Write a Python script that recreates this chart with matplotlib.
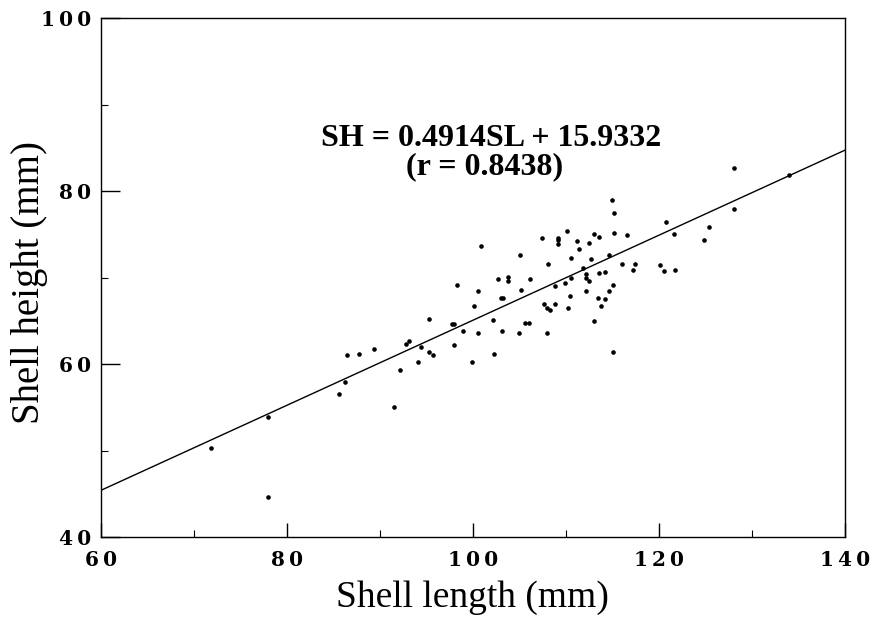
import matplotlib
matplotlib.use("Agg")
import matplotlib.pyplot as plt
import numpy as np
from matplotlib.ticker import MultipleLocator

shell_length = [71.8, 78.0, 78.0, 85.6, 86.2, 86.5, 87.7, 89.4, 91.5, 92.1,
                92.8, 93.1, 94.1, 94.4, 95.3, 95.3, 95.7, 97.7, 98.0, 98.0,
                98.3, 98.9, 99.9, 100.1, 100.5, 100.5, 100.9, 102.1, 102.3, 102.7,
                103.0, 103.2, 103.1, 103.8, 103.8, 105.1, 105.2, 105.0, 105.6, 106.0,
                106.1, 107.4, 107.6, 108.1, 108.0, 108.3, 108.0, 108.8, 108.8, 109.1,
                109.1, 109.1, 109.9, 110.1, 110.2, 110.4, 110.5, 110.5, 111.2, 111.4,
                111.8, 112.1, 112.2, 112.5, 112.1, 112.5, 112.7, 113.0, 113.6, 113.0,
                113.4, 113.6, 113.8, 114.2, 114.2, 114.6, 114.6, 115.0, 115.2, 115.2,
                115.1, 115.1, 116.0, 116.6, 117.2, 117.4, 120.1, 120.5, 120.7, 121.7,
                121.6, 124.8, 125.4, 128.1, 128.1, 134.0]
shell_height = [50.3, 53.9, 44.6, 56.6, 57.9, 61.1, 61.2, 61.7, 55.1, 59.3,
                62.3, 62.7, 60.2, 62.0, 65.2, 61.4, 61.0, 64.6, 64.6, 62.2,
                69.2, 63.8, 60.3, 66.7, 63.6, 68.4, 73.6, 65.1, 61.2, 69.8,
                67.6, 67.6, 63.8, 70.1, 69.6, 72.6, 68.6, 63.6, 64.8, 64.7,
                69.8, 74.6, 66.9, 71.6, 66.5, 66.3, 63.6, 66.9, 69.0, 74.6,
                74.3, 73.9, 69.4, 75.4, 66.5, 67.9, 70.0, 72.3, 74.2, 73.3,
                71.1, 70.4, 69.9, 69.6, 68.5, 74.0, 72.1, 75.0, 74.7, 65.0,
                67.6, 70.5, 66.7, 67.5, 70.7, 72.6, 68.5, 79.0, 77.5, 75.2,
                69.2, 61.4, 71.6, 74.9, 70.9, 71.6, 71.4, 70.8, 76.4, 70.9,
                75.0, 74.3, 75.8, 82.7, 77.9, 81.9]

slope = 0.4914
intercept = 15.9332
equation_text = "SH = 0.4914SL + 15.9332"
r_text = "(r = 0.8438)"
x_ticks = [60, 80, 100, 120, 140]
y_ticks = [40, 60, 80, 100]
x_label = "Shell length (mm)"
y_label = "Shell height (mm)"

SP = "\u2009"  # slight letter spacing to mimic the wide tick digits


def spaced(v):
    return SP.join(str(v))


tick_font = dict(fontfamily='DejaVu Serif', fontweight='bold', fontsize=14.5)

fig = plt.figure(figsize=(8.76, 6.21), dpi=100)
ax = fig.add_axes([0.1153, 0.135, 0.8493, 0.836])

ax.plot(shell_length, shell_height, 'o', color='black', markersize=3.3,
        markeredgewidth=0, clip_on=False)
lx = np.array([60, 140])
ax.plot(lx, slope * lx + intercept, color='black', linewidth=1.0)

ax.set_xlim(60, 140)
ax.set_ylim(40, 100)
ax.set_xticks(x_ticks, labels=[spaced(v) for v in x_ticks], **tick_font)
ax.set_yticks(y_ticks, labels=[spaced(v) for v in y_ticks], **tick_font)
ax.xaxis.set_minor_locator(MultipleLocator(10))
ax.yaxis.set_minor_locator(MultipleLocator(10))
ax.tick_params(axis='y', which='major', direction='in', length=14, width=1.0)
ax.tick_params(axis='x', which='major', direction='in', length=10, width=1.0)
ax.tick_params(which='minor', direction='in', length=5, width=0.8)
ax.tick_params(axis='x', which='major', pad=9)
ax.tick_params(axis='y', which='major', pad=7)
for sp in ax.spines.values():
    sp.set_linewidth(1.0)

fig.text(472 / 876, 1 - 598 / 621, x_label, fontfamily='Liberation Serif',
         fontsize=27, ha='center', va='center')
fig.text(30 / 876, 1 - 282 / 621, y_label, fontfamily='Liberation Serif',
         fontsize=28, ha='center', va='center', rotation=90)

ax.text(102.0, 85.2, equation_text, fontfamily='Liberation Serif', fontsize=23,
        fontweight='bold', ha='center', va='baseline')
ax.text(101.2, 82.0, r_text, fontfamily='Liberation Serif', fontsize=23,
        fontweight='bold', ha='center', va='baseline')

fig.savefig("out.png", dpi=100)
